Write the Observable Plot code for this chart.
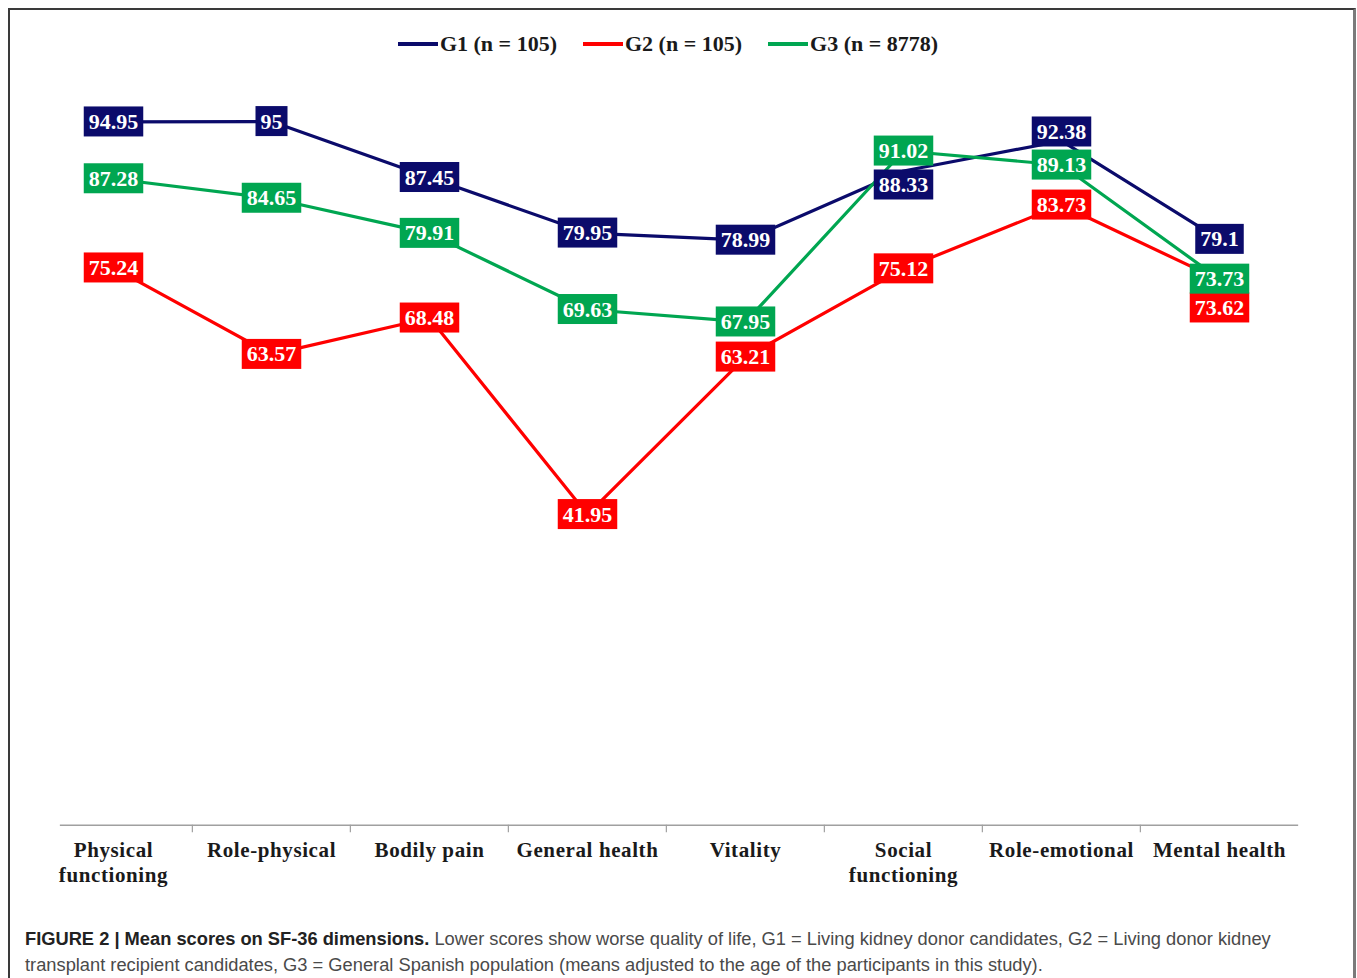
<!DOCTYPE html>
<html>
<head>
<meta charset="utf-8">
<script src="https://cdn.jsdelivr.net/npm/d3@7"></script>
<script src="https://cdn.jsdelivr.net/npm/@observablehq/plot@0.6"></script>
<style>
  html, body { margin: 0; padding: 0; background: #fff; }
  body { width: 1357px; height: 978px; position: relative; overflow: hidden; }
  #frame { position: absolute; left: 8px; top: 8px; width: 1348px; height: 1000px;
           border-left: 2px solid #3a3a3a; border-top: 2px solid #3a3a3a; border-right: 3px solid #7a7a7a; box-sizing: border-box; }
  #legend { position: absolute; left: 0; top: 31px; width: 1336px; display: flex; justify-content: center; align-items: center;
            font-family: "Liberation Serif", serif; font-weight: bold; font-size: 22px; color: #1a1a1a; }
  .item { display: flex; align-items: center; margin: 0 13px; }
  .sw { width: 40px; height: 3.5px; margin-right: 2px; }
  #chart { position: absolute; left: 0; top: 70px; }
  #caption { position: absolute; left: 25px; top: 926px; width: 1320px; font-family: "Liberation Sans", Arial, sans-serif;
             font-size: 18.3px; line-height: 26px; color: #4a4a4a; white-space: nowrap; }
  #caption b { color: #222; }
</style>
</head>
<body>
<div id="frame"></div>
<div id="legend"></div>
<div id="chart"></div>
<div id="caption"><b>FIGURE 2 | Mean scores on SF-36 dimensions.</b> Lower scores show worse quality of life, G1 = Living kidney donor candidates, G2 = Living donor kidney<br>transplant recipient candidates, G3 = General Spanish population (means adjusted to the age of the participants in this study).</div>
<script>
// ---- data ----
const categories = ["Physical\nfunctioning", "Role-physical", "Bodily pain", "General health", "Vitality", "Social\nfunctioning", "Role-emotional", "Mental health"];
const seriesNames = ["G1 (n = 105)", "G2 (n = 105)", "G3 (n = 8778)"];
const g1 = [94.95, 95, 87.45, 79.95, 78.99, 88.33, 92.38, 79.1];
const g2 = [75.24, 63.57, 68.48, 41.95, 63.21, 75.12, 83.73, 73.62];
const g3 = [87.28, 84.65, 79.91, 69.63, 67.95, 91.02, 89.13, 73.73];
const colors = ["#0b0b6b", "#ff0000", "#00a651"];

const seriesValues = [g1, g2, g3];
const rows = [];
seriesValues.forEach((vals, s) => vals.forEach((v, i) => rows.push({series: seriesNames[s], s, cat: categories[i], i, value: v})));

// label nudges (pixels) to avoid overlaps, as in the original figure
function nudge(r) {
  if (r.s === 0 && r.i === 5) return 14;
  if (r.s === 0 && r.i === 6) return -9;
  if (r.s === 1 && r.i === 7) return 28;
  return 0;
}

// ---- legend ----
const legend = document.getElementById("legend");
seriesNames.forEach((n, s) => {
  const it = document.createElement("div"); it.className = "item";
  const sw = document.createElement("div"); sw.className = "sw"; sw.style.background = colors[s];
  const t = document.createElement("span"); t.textContent = n;
  it.appendChild(sw); it.appendChild(t); legend.appendChild(it);
});

// ---- chart ----
const W = 1357, H = 830, ML = 32.85, MR = 57.85;
const step = (W - ML - MR) / categories.length;
const LABEL_FILL = "#fffffe";
const CAT_FILL = "#1a1a1b";

const labelMarks = rows.map(r => Plot.text([r], {
  x: "cat", y: "value", text: d => String(d.value), dy: nudge(r),
  fill: LABEL_FILL, fontSize: 22, fontWeight: "bold", fontFamily: "Liberation Serif"
}));

const plot = Plot.plot({
  width: W, height: H,
  marginTop: 14, marginBottom: 75.2, marginLeft: ML, marginRight: MR,
  x: {type: "point", domain: categories, padding: 0.5, axis: null},
  y: {domain: [0, 100], axis: null},
  style: {background: "transparent", fontFamily: "Liberation Serif"},
  marks: [
    Plot.ruleY([0], {stroke: "#a0a0a0", strokeWidth: 1.5, insetLeft: 27, insetRight: 1}),
    Plot.ruleX(categories.slice(1), {x: d => d, y1: d => 0, y2: d => -1, dx: -step / 2, stroke: "#a0a0a0", strokeWidth: 1.2}),
    Plot.text(categories, {x: d => d, y: d => 0, text: d => d, dy: 14, lineAnchor: "top", lineHeight: 1.2,
      fontSize: 21, fontWeight: "bold", fill: CAT_FILL, fontFamily: "Liberation Serif"}),
    Plot.line(rows, {x: "cat", y: "value", z: "series", stroke: d => colors[d.s], strokeWidth: 3.2, strokeLinejoin: "round"}),
    ...labelMarks
  ]
});
document.getElementById("chart").appendChild(plot);

function fillOf(t) {
  const el = t.closest("[fill]");
  return el ? el.getAttribute("fill") : null;
}

// letter spacing on category labels
plot.querySelectorAll("text").forEach(t => {
  if (fillOf(t) === CAT_FILL) t.style.letterSpacing = "0.6px";
});

// add coloured boxes behind value labels (DOM order follows rows order)
const labelTexts = Array.from(plot.querySelectorAll("text")).filter(t => fillOf(t) === LABEL_FILL);
labelTexts.forEach((t, k) => {
  const s = rows[k] ? rows[k].s : 0;
  const bb = t.getBBox();
  const rect = document.createElementNS("http://www.w3.org/2000/svg", "rect");
  const cy = bb.y + bb.height / 2;
  rect.setAttribute("x", bb.x - 5);
  rect.setAttribute("width", bb.width + 10);
  rect.setAttribute("y", cy - 15);
  rect.setAttribute("height", 30);
  rect.setAttribute("fill", colors[s]);
  const tr = t.getAttribute("transform");
  if (tr) rect.setAttribute("transform", tr);
  t.parentNode.insertBefore(rect, t);
});
</script>
</body>
</html>
